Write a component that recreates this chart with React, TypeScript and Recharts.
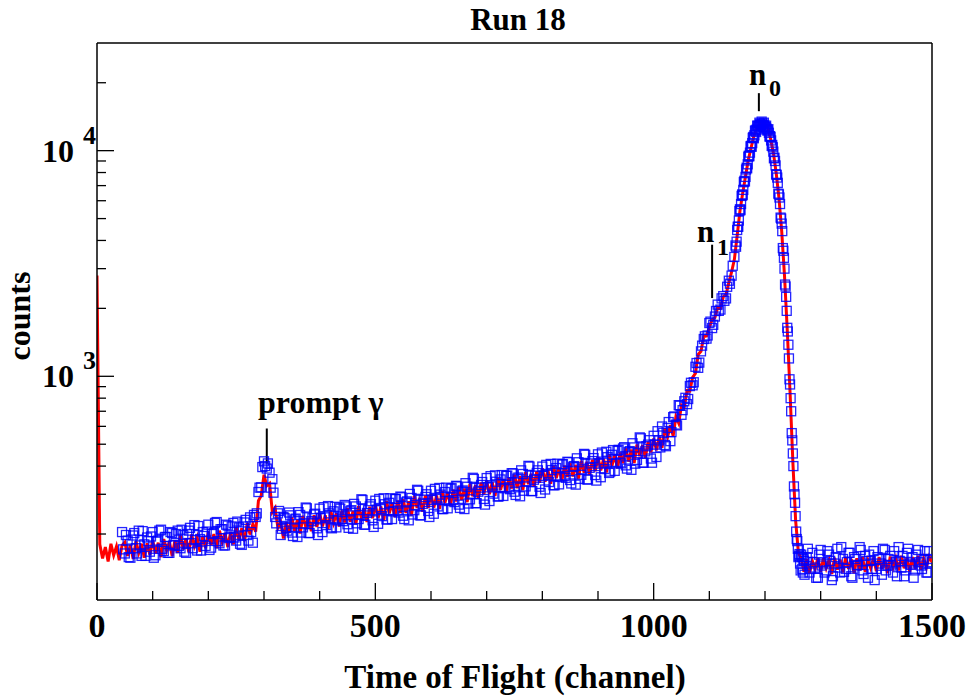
import React from 'react';
import { ComposedChart, Line, Scatter, XAxis, YAxis, ReferenceLine } from 'recharts';

const PLOT_LEFT = 97;
const PLOT_BOTTOM = 600;
const FONT = '"Liberation Serif", "Times New Roman", serif';

// simulation (red line), 5-channel bins
const simLowStart = 0;
const simLow = [
  2800, 180, 156, 175, 151, 181, 161, 176, 153, 178,
  184, 160, 179, 155, 186, 165, 181, 157, 182, 162,
  188, 164, 183, 158, 190, 169, 185, 160, 187, 165,
  197, 171, 191, 166, 199, 177, 193, 167, 195, 173,
  205, 179, 200, 173, 207, 184, 202, 175, 204, 180,
  214, 188, 212, 186, 224, 199, 221, 205, 281, 296,
  366, 327, 335, 250, 261, 213, 225, 191, 225, 202,
  238, 206, 231, 201, 241, 215, 236, 206, 242, 215,
  248, 216, 242, 210, 253, 224, 247, 216, 254, 225,
  260, 227, 253, 221, 266, 235, 259, 226, 264, 235,
  270, 235, 265, 230, 280, 247, 274, 238, 281, 248,
  285, 248, 279, 242, 295, 261, 289, 251, 296, 261,
  300, 262, 296, 258, 310, 275, 307, 268, 315, 279,
  323, 283, 318, 277, 333, 294, 329, 287, 338, 300,
  345, 300, 339, 295, 355, 314, 350, 306, 357, 318,
  366, 319, 360, 313, 377, 333, 370, 324, 379, 338,
  391, 341, 384, 334, 400, 354, 394, 344, 402, 358,
  412, 360, 405, 352, 422, 374, 418, 366, 427, 380,
  439, 383, 431, 375, 452, 401, 447, 391, 459, 412,
  479, 419, 473, 413, 499, 443, 496, 436, 513, 460,
];
const simHighStart = 1000;
const simHigh = [
  530, 470, 539, 482, 589, 538, 607, 544, 663, 620,
  745, 730, 865, 860, 990, 1030, 1250, 1290, 1500, 1510,
  1650, 1780, 1820, 2020, 2000, 2250, 2300, 2600, 2900, 3300,
  4200, 5400, 6500, 7700, 9100, 10300, 11600, 12500, 13100, 13400,
  13000, 12600, 11300, 9800, 8000, 6200, 4400, 2800, 1600, 850,
  420, 230, 165, 156, 136, 155, 134, 152, 140, 157,
  136, 156, 141, 153, 133, 157, 139, 154, 135, 158,
  140, 155, 134, 156, 138, 158, 136, 153, 141, 157,
  137, 158, 140, 155, 134, 159, 142, 156, 138, 160,
  141, 157, 136, 158, 140, 160, 139, 156, 142, 159,
  150,
];

// measured data (blue squares)
const dataRiseAStart = 45;
const dataRiseA = [
  204, 164, 187, 157, 197, 173, 207, 160, 180, 193, 167,
  204, 161, 187, 209, 168, 194, 165, 202, 179, 207,
  173, 198, 165, 207, 182, 219, 169, 190, 204, 177,
  220, 174, 202, 226, 182, 210, 178, 218, 194, 224,
  187, 214, 179, 225, 198, 237, 183, 238, 307, 322,
  420, 390, 374, 350, 238, 247, 198, 238, 213, 249,
  203, 232, 194, 243, 214, 262, 202, 228, 244, 212,
  259, 204, 237, 266, 214, 252, 214, 262, 233, 269,
  221, 252, 211, 265, 233, 285, 220, 248, 265, 230,
  281, 222, 258, 288, 232, 275, 233, 286, 254, 293,
  241, 276, 230, 289, 255, 314, 242, 272, 292, 253,
  311, 246, 286, 320, 258, 307, 260, 318, 283, 327,
  270, 309, 258, 324, 285, 355, 274, 308, 330, 286,
  354, 280, 325, 364, 293, 349, 295, 362, 322, 372,
  308, 352, 294, 369, 325, 401, 310, 348, 373, 324,
  398, 315, 366, 409, 329, 392, 332, 407, 362, 418,
  347, 397, 331, 416, 366, 453, 349, 393, 421, 365,
  451, 357, 414, 463, 373, 449, 381, 467, 415, 479,
  403, 461, 385, 484, 426, 536, 414, 465, 498, 432,
  545, 439, 520, 599, 496, 590, 516, 659, 611, 745,
  675, 775, 753, 905, 912, 1102, 1090, 1290, 1463, 1469,
  1722, 1636, 1840, 2078, 1976, 2266, 2214, 2652, 2793, 3380,
];
const dataRiseBStart = 47;
const dataRiseB = [
  171, 198, 158, 189, 202, 164, 178, 206, 160, 186,
  195, 157, 185, 207, 172, 194, 165, 204, 178, 200,
  177, 209, 167, 200, 213, 173, 188, 217, 169, 196,
  205, 170, 200, 224, 186, 210, 178, 220, 192, 216,
  193, 227, 181, 216, 231, 187, 204, 243, 247, 321,
  396, 400, 411, 321, 305, 223, 253, 211, 235, 207,
  242, 196, 234, 250, 203, 223, 260, 202, 235, 246,
  198, 235, 263, 219, 247, 212, 264, 230, 259, 228,
  265, 213, 255, 272, 223, 243, 283, 220, 255, 271,
  215, 255, 286, 240, 271, 232, 288, 252, 286, 249,
  291, 233, 279, 301, 244, 269, 311, 242, 284, 300,
  238, 283, 317, 265, 299, 258, 321, 280, 319, 277,
  325, 261, 312, 336, 273, 302, 351, 274, 321, 340,
  270, 322, 361, 302, 341, 294, 365, 319, 363, 316,
  371, 298, 356, 383, 311, 343, 398, 310, 363, 383,
  304, 362, 405, 340, 384, 329, 410, 358, 408, 355,
  416, 335, 400, 433, 351, 387, 449, 349, 411, 434,
  345, 410, 459, 388, 438, 378, 471, 411, 472, 411,
  485, 390, 466, 505, 410, 456, 531, 414, 490, 521,
  414, 498, 571, 484, 562, 490, 627, 566, 664, 606,
  741, 708, 803, 793, 936, 941, 1145, 1150, 1367, 1504,
  1517, 1747, 1691, 1947, 1950, 2215, 2160, 2493, 2571, 3090,
];
const dataPeakAStart = 1147;
const dataPeakA = [
  3800, 3950, 4600, 4900, 5500, 5800, 6400, 6700, 7350, 7650,
  8400, 8700, 9500, 9800, 10500, 10800, 11500, 11700, 12300, 12400,
  12900, 12800, 13100, 13000, 13200, 12900, 12900, 12700, 12500, 12300,
  12000, 11600, 11100, 10600, 9900, 9300, 8600, 7800, 7200, 6400,
  5800, 5000, 4400, 3600, 3000, 2500, 1950, 1580, 1200, 920,
  700, 520, 400, 300, 240, 190, 172, 160, 148, 162,
  140, 155, 132,
];
const dataPeakBStart = 1148;
const dataPeakB = [
  3750, 4450, 4600, 5400, 5450, 6300, 6350, 7250, 7300, 8250,
  8350, 9400, 9450, 10450, 10400, 11400, 11350, 12250, 12100, 12900,
  12700, 13300, 13000, 13450, 13050, 13300, 12700, 12900, 12300, 12450,
  11550, 11500, 10500, 10350, 9250, 9000, 7850, 7600, 6450, 6200,
  5050, 4750, 3700, 3350, 2550, 2250, 1640, 1380, 970, 800,
  560, 455, 325, 275, 205, 186, 158, 163, 138, 158,
  135, 152,
];
const dataTailAStart = 1275;
const dataTailA = [
  158, 135, 165, 142, 128, 170, 150, 138, 162, 125,
  148, 172, 135, 155, 140, 165, 130, 158, 145, 175,
  138, 160, 128, 152, 168, 140, 155, 132, 170, 145,
  160, 135, 150, 175, 142, 130, 165, 148, 158, 138,
  170, 145, 155, 135, 168, 150,
];
const dataTailBStart = 1277;
const dataTailB = [
  172, 140, 150, 128, 162, 145, 135, 168, 152, 130,
  158, 142, 175, 136, 150, 165, 128, 155, 146, 170,
  133, 152, 162, 140, 125, 158, 148, 172, 138, 155,
  145, 168, 130, 152, 160, 138, 172, 146, 128, 162,
  150, 140, 168, 135, 155,
];

const xTicks = [0, 100, 200, 300, 400, 500, 600, 700, 800, 900, 1000, 1100, 1200, 1300, 1400, 1500];
const yTicks = [200, 300, 400, 500, 600, 700, 800, 900, 1000, 2000, 3000, 4000, 5000, 6000, 7000, 8000, 9000, 10000, 20000];

const toPoints = (start: number, step: number, values: number[]) =>
  values.map((v, i) => ({ ch: start + i * step, counts: v }));

const simData = [...toPoints(simLowStart, 5, simLow), ...toPoints(simHighStart, 5, simHigh)];
const measData = [
  ...toPoints(dataRiseAStart, 5, dataRiseA),
  ...toPoints(dataRiseBStart, 5, dataRiseB),
  ...toPoints(dataPeakAStart, 2, dataPeakA),
  ...toPoints(dataPeakBStart, 2, dataPeakB),
  ...toPoints(dataTailAStart, 5, dataTailA),
  ...toPoints(dataTailBStart, 5, dataTailB),
];

const XTick = ({ x, payload }: any) => {
  const major = payload.value % 500 === 0;
  return (
    <g>
      <line x1={x} x2={x} y1={PLOT_BOTTOM} y2={PLOT_BOTTOM - (major ? 17 : 9)} stroke="#000" strokeWidth={1.3} />
      {major && (
        <text x={x} y={637} textAnchor="middle" fontFamily={FONT} fontWeight="bold" fontSize={34} fill="#000">
          {payload.value}
        </text>
      )}
    </g>
  );
};

const YTick = ({ y, payload }: any) => {
  const exp = Math.log10(payload.value);
  const major = Math.abs(exp - Math.round(exp)) < 1e-6;
  return (
    <g>
      <line x1={PLOT_LEFT} x2={PLOT_LEFT + (major ? 17 : 9)} y1={y} y2={y} stroke="#000" strokeWidth={1.3} />
      {major && (
        <g fontFamily={FONT} fontWeight="bold" fill="#000">
          <text x={74} y={y + 11} textAnchor="end" fontSize={32}>10</text>
          <text x={83} y={y - 7} fontSize={26}>{Math.round(exp)}</text>
        </g>
      )}
    </g>
  );
};

const Square = ({ cx, cy }: any) => (
  <rect x={cx - 4.5} y={cy - 4.5} width={9} height={9} fill="none" stroke="#0000ff" strokeOpacity={0.85} strokeWidth={1.3} />
);

const txt = { fontFamily: FONT, fontWeight: 'bold' as const, fill: '#000' };

const App: React.FC = () => {
  return (
    <div style={{ position: 'absolute', left: 0, top: 0, width: 968, height: 700, background: '#fff' }}>
      <ComposedChart width={968} height={700} margin={{ top: 43, right: 36, bottom: 40, left: 37 }}>
        <XAxis
          type="number"
          dataKey="ch"
          domain={[0, 1500]}
          ticks={xTicks}
          interval={0}
          tickSize={0}
          tick={<XTick />}
          height={60}
          axisLine={{ stroke: '#000', strokeWidth: 1.5 }}
          tickLine={false}
          allowDataOverflow
        />
        <YAxis
          type="number"
          scale="log"
          domain={[102, 30000]}
          ticks={yTicks}
          interval={0}
          tickSize={0}
          tick={<YTick />}
          width={60}
          axisLine={{ stroke: '#000', strokeWidth: 1.5 }}
          tickLine={false}
          allowDataOverflow
        />
        <ReferenceLine y={30000} stroke="#000" strokeWidth={1.5} />
        <ReferenceLine x={1500} stroke="#000" strokeWidth={1.5} />
        <Scatter data={measData} dataKey="counts" shape={<Square />} isAnimationActive={false} />
        <Line
          data={simData}
          dataKey="counts"
          type="linear"
          stroke="#ff0000"
          strokeWidth={3}
          dot={false}
          isAnimationActive={false}
        />
        <ReferenceLine segment={[{ x: 305, y: 410 }, { x: 305, y: 587 }]} stroke="#000" strokeWidth={2} />
        <ReferenceLine segment={[{ x: 1105, y: 2222 }, { x: 1105, y: 3830 }]} stroke="#000" strokeWidth={2} />
        <ReferenceLine segment={[{ x: 1189, y: 14960 }, { x: 1189, y: 17980 }]} stroke="#000" strokeWidth={2} />
      </ComposedChart>
      <svg width={968} height={700} style={{ position: 'absolute', left: 0, top: 0, pointerEvents: 'none' }}>
        <text {...txt} x={518} y={30} textAnchor="middle" fontSize={31}>Run 18</text>
        <text {...txt} x={515} y={688} textAnchor="middle" fontSize={33}>Time of Flight (channel)</text>
        <text {...txt} transform="translate(30,316) rotate(-90)" textAnchor="middle" fontSize={32}>counts</text>
        <text {...txt} x={258} y={413} fontSize={32}>prompt γ</text>
        <text {...txt} x={749} y={85} fontSize={31}>n</text>
        <text {...txt} x={769} y={96} fontSize={24}>0</text>
        <text {...txt} x={697} y={242} fontSize={31}>n</text>
        <text {...txt} x={717} y={255} fontSize={24}>1</text>
      </svg>
    </div>
  );
};

export default App;
